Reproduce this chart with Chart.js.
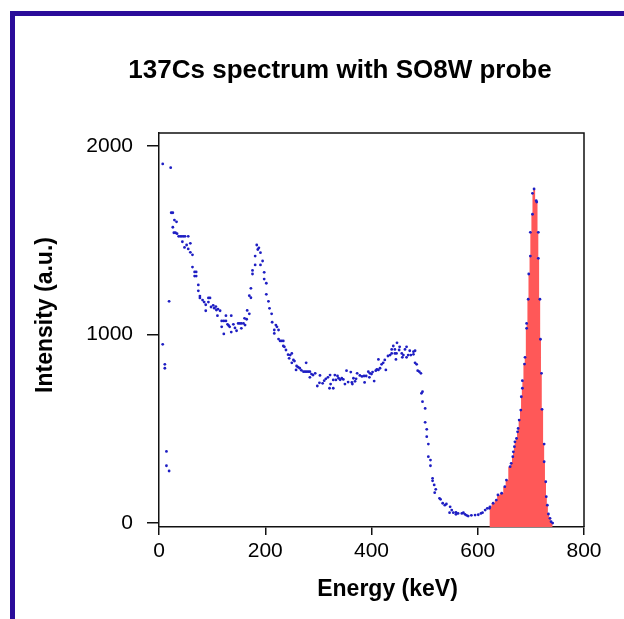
<!DOCTYPE html>
<html>
<head>
<meta charset="utf-8">
<script src="https://cdn.jsdelivr.net/npm/chart.js@4.4.1/dist/chart.umd.min.js"></script>
<style>
  html, body { margin: 0; padding: 0; background: #fff; }
  body { width: 624px; height: 619px; position: relative; overflow: hidden; }
  #c { position: absolute; left: 0; top: 0; }
  #frame { position: absolute; left: 10px; top: 11px; width: 700px; height: 700px;
           border-left: 5px solid #2b0c9a; border-top: 5px solid #2b0c9a; pointer-events: none; }
</style>
</head>
<body>
<canvas id="c" width="624" height="619"></canvas>
<div id="frame"></div>
<script>
// ---- data ----
const chartTitle = '137Cs spectrum with SO8W probe';
const xAxisTitle = 'Energy (keV)';
const yAxisTitle = 'Intensity (a.u.)';
const xTickValues = [0, 200, 400, 600, 800];
const yTickValues = [0, 1000, 2000];
const peakFillFrom = 621; // keV, start of the shaded photopeak

const energyKeV = [
  7, 7, 11, 11, 14, 14, 19, 19, 22, 23, 26, 26, 28, 29, 31, 33, 34, 37, 40, 43,
  44, 46, 48, 49, 52, 55, 55, 59, 59, 63, 63, 67, 67, 70, 70, 74, 74, 77, 77, 82,
  85, 88, 88, 93, 93, 96, 98, 102, 104, 107, 108, 110, 111, 115, 118, 118, 122, 122, 126, 126,
  129, 131, 133, 136, 136, 140, 143, 146, 149, 152, 155, 155, 159, 161, 162, 165, 166, 170, 170, 173,
  173, 176, 176, 181, 181, 184, 186, 188, 191, 191, 195, 198, 198, 202, 202, 206, 208, 212, 213, 217,
  217, 220, 222, 225, 225, 228, 231, 234, 234, 236, 239, 243, 245, 247, 250, 250, 253, 255, 258, 259,
  262, 265, 268, 272, 275, 277, 278, 281, 284, 284, 287, 290, 294, 298, 302, 303, 308, 311, 314, 318,
  321, 322, 323, 328, 328, 331, 333, 336, 338, 341, 344, 347, 350, 353, 356, 361, 363, 364, 366, 369,
  371, 373, 378, 382, 386, 387, 390, 394, 396, 397, 400, 402, 405, 408, 410, 413, 413, 416, 419, 422,
  425, 427, 431, 435, 438, 438, 441, 444, 444, 446, 447, 448, 452, 453, 457, 458, 460, 463, 466, 466,
  469, 472, 474, 479, 479, 482, 482, 485, 487, 490, 493, 494, 496, 496, 501, 501, 504, 504, 507, 507,
  511, 511, 515, 515, 518, 519, 521, 528, 530, 534, 538, 541, 547, 548, 551, 554, 559, 559, 563, 570,
  573, 576, 579, 582, 588, 595, 601, 606, 609, 614, 618, 622,
  623, 629, 635, 638, 645, 651, 654, 661, 663, 666, 667, 669, 670, 673, 675, 676, 678, 681, 682, 684,
  684, 688, 689, 692, 692, 695, 696, 699, 699, 703, 703, 706, 710, 711, 714, 714, 717, 718, 720, 721,
  725, 725, 728, 729, 731, 733, 736, 738, 741
];
const intensity = [
  1905, 948, 842, 821, 380, 304, 276, 1176, 1885, 1646, 1646, 1569, 1540, 1607, 1540, 1598, 1535, 1521, 1521, 1521,
  1492, 1521, 1462, 1521, 1475, 1521, 1454, 1484, 1436, 1423, 1358, 1332, 1310, 1332, 1310, 1263, 1232, 1204, 1194, 1183,
  1172, 1158, 1126, 1194, 1172, 1194, 1146, 1155, 1140, 1148, 1130, 1100, 1135, 1126, 1072, 1041, 1072, 1003, 1072, 1100,
  1054, 1048, 1041, 1100, 1013, 1054, 1035, 1020, 1059, 1059, 1059, 1033, 1059, 1086, 1050, 1081, 1128, 1110, 1206, 1195,
  1245, 1321, 1340, 1369, 1416, 1475, 1451, 1460, 1434, 1369, 1390, 1330, 1294, 1272, 1213, 1176, 1139, 1110, 1065, 1024,
  1006, 1050, 1041, 1024, 976, 966, 966, 966, 939, 935, 918, 893, 874, 891, 900, 850, 865, 859, 812, 833,
  827, 821, 810, 803, 803, 850, 803, 803, 803, 773, 790, 785, 794, 727, 744, 783, 741, 755, 765, 773,
  715, 785, 737, 715, 759, 785, 759, 780, 768, 760, 768, 762, 737, 808, 748, 801, 746, 737, 768, 752,
  765, 794, 783, 778, 780, 746, 780, 803, 773, 794, 790, 801, 753, 808, 815, 812, 868, 821, 842, 850,
  865, 812, 886, 891, 921, 900, 939, 921, 900, 868, 900, 956, 918, 935, 900, 879, 891, 921, 935, 879,
  891, 914, 891, 895, 909, 914, 850, 842, 808, 803, 794, 688, 697, 644, 608, 534, 497, 458, 419, 352,
  334, 304, 237, 224, 202, 161, 179, 131, 126, 105, 95, 101, 55, 86, 69, 55, 57, 46, 51, 51,
  55, 46, 41, 37, 41, 42, 44, 51, 55, 69, 78, 78,
  86, 105, 122, 149, 158, 193, 228, 299, 317, 352, 378, 405, 431, 449, 484, 502, 546, 599, 670, 715,
  755, 843, 879, 1033, 1059, 1187, 1321, 1416, 1542, 1638, 1749, 1772, 1710, 1703, 1542, 1404, 1187, 975, 794, 603,
  419, 325, 219, 140, 95, 48, 25, 7, 0
];

// ---- build datasets from the arrays ----
const spectrumPoints = energyKeV.map((e, i) => ({ x: e, y: intensity[i] }));
const peakPoints = spectrumPoints.filter(p => p.x >= peakFillFrom);

const FONT = '"Liberation Sans", Arial, Helvetica, sans-serif';

const framePlugin = {
  id: 'frameAndAxisTitles',
  afterDraw(chart) {
    const { ctx, chartArea: a } = chart;
    ctx.save();
    // top and right edges of the plot box
    ctx.strokeStyle = '#111';
    ctx.lineWidth = 1.5;
    ctx.beginPath();
    ctx.moveTo(a.left, a.top);
    ctx.lineTo(a.right, a.top);
    ctx.lineTo(a.right, a.bottom);
    ctx.stroke();
    // axis titles
    ctx.fillStyle = '#000';
    ctx.font = 'bold 23px ' + FONT;
    ctx.textAlign = 'center';
    ctx.textBaseline = 'middle';
    ctx.fillText(xAxisTitle, (a.left + a.right) / 2 + 16, a.bottom + 63);
    ctx.translate(a.left - 113, (a.top + a.bottom) / 2 - 15);
    ctx.rotate(-Math.PI / 2);
    ctx.fillText(yAxisTitle, 0, 0);
    ctx.restore();
  }
};

new Chart(document.getElementById('c'), {
  type: 'scatter',
  data: {
    datasets: [
      {
        label: 'spectrum',
        data: spectrumPoints,
        order: 0,
        pointRadius: 1.4,
        pointHoverRadius: 1.4,
        pointBorderWidth: 0,
        pointBackgroundColor: 'rgb(30,30,195)',
        showLine: false
      },
      {
        label: 'photopeak',
        type: 'line',
        data: peakPoints,
        order: 1,
        stepped: 'middle',
        borderWidth: 0,
        borderColor: 'rgba(0,0,0,0)',
        pointRadius: 0,
        fill: 'start',
        backgroundColor: 'rgb(255,88,88)'
      }
    ]
  },
  options: {
    responsive: false,
    animation: false,
    events: [],
    layout: { padding: { left: 56, right: 0, top: 0, bottom: 0 } },
    plugins: {
      legend: { display: false },
      tooltip: { enabled: false },
      title: {
        display: true,
        text: chartTitle,
        color: '#000',
        font: { family: FONT, size: 26, weight: 'bold', lineHeight: 1.2 },
        padding: { top: 55, bottom: 46.8 }
      }
    },
    scales: {
      x: {
        type: 'linear',
        min: 0,
        max: 800,
        afterBuildTicks: s => { s.ticks = xTickValues.map(v => ({ value: v })); },
        afterFit: s => { s.height = 92; s.paddingRight = 40; },
        grid: { drawOnChartArea: false, drawTicks: true, tickLength: 8, color: '#111', lineWidth: 1.5 },
        border: { display: true, color: '#111', width: 1.5 },
        ticks: { color: '#000', padding: 4, maxRotation: 0, font: { family: FONT, size: 21 },
                 callback: v => String(v) }
      },
      y: {
        type: 'linear',
        min: -21,
        max: 2069,
        afterBuildTicks: s => { s.ticks = yTickValues.map(v => ({ value: v })); },
        afterFit: s => { s.width = 103; },
        grid: { drawOnChartArea: false, drawTicks: true, tickLength: 12, color: '#111', lineWidth: 1.5 },
        border: { display: true, color: '#111', width: 1.5 },
        ticks: { color: '#000', padding: 14, font: { family: FONT, size: 21 },
                 callback: v => String(v) }
      }
    }
  },
  plugins: [framePlugin]
});
</script>
</body>
</html>
